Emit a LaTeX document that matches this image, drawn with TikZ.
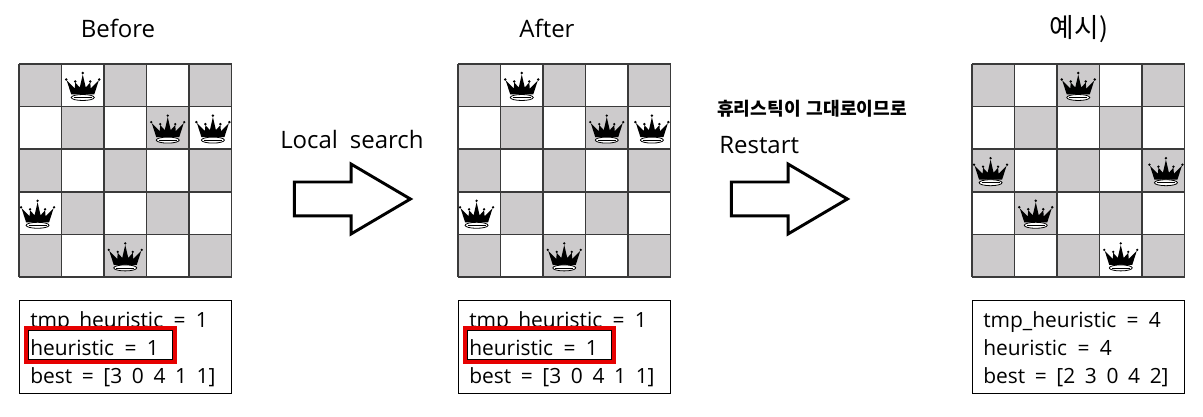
\documentclass[tikz,border=0pt]{standalone}
\usepackage{fontspec}
\setmainfont[WordSpace=1.9]{Open Sans}
\newfontfamily\krfont[WordSpace=1.5]{Noto Sans CJK KR}
\usepackage{xcolor}
\usepackage{tikz}
\usetikzlibrary{shapes.arrows, positioning}

\definecolor{cellgray}{HTML}{CDCBCC}
\definecolor{gridgray}{HTML}{3A3A3A}
\definecolor{boxred}{HTML}{E60000}

\begin{document}
\begin{tikzpicture}[
        x=0.75pt, y=-0.75pt,
        title/.style={font={\fontsize{18pt}{20pt}\selectfont}, anchor=base},
        caption/.style={font={\fontsize{18pt}{20pt}\selectfont}, anchor=base west, inner sep=0pt},
        krnote/.style={font={\krfont\fontsize{13.6pt}{15pt}\selectfont\bfseries}, anchor=base west, inner sep=0pt},
        statbox/.style={rectangle, draw=black, fill=white, line width=1pt, minimum width=212*0.75pt, minimum height=93*0.75pt, anchor=north west, inner sep=0pt},
        statline/.style={font={\fontsize{15.7pt}{18pt}\selectfont}, anchor=base west, inner sep=0pt},
        bestline/.style={statline, font={\fontsize{15.7pt}{18pt}\selectfont\spaceskip=.46em\relax}},
        heurbox/.style={rectangle, draw=boxred, fill=white, line width=3pt, minimum width=149*0.75pt, minimum height=34*0.75pt, anchor=north west, inner sep=0pt},
        heurinner/.style={rectangle, draw=black, line width=0.6pt, minimum width=144*0.75pt, minimum height=29*0.75pt, anchor=north west, inner sep=0pt},
        bigarrow/.style={single arrow, draw=black, fill=white, line width=2.2pt, minimum height=116*0.75pt, inner xsep=0pt, inner ysep=15.5*0.75pt, single arrow head extend=18*0.75pt, single arrow head indent=0pt, single arrow tip angle=61, anchor=center},
        board/.pic={
            \foreach \r in {0,1,2,3,4} {
                \foreach \c in {0,1,2,3,4} {
                    \pgfmathparse{int(mod(\r+\c,2))}
                    \ifnum\pgfmathresult=0
                        \fill[cellgray] (\c*42.5,\r*42.6) rectangle ++(42.5,42.6);
                    \fi
                    \coordinate (-\r\c) at (\c*42.5+21.25,\r*42.6+22.5);
                }
            }
            \foreach \i in {0,1,2,3,4,5} {
                \draw[gridgray, line width=1.1pt] (\i*42.5,0) -- (\i*42.5,213);
                \draw[gridgray, line width=1.1pt] (0,\i*42.6) -- (212.5,\i*42.6);
            }
        },
        queen/.pic={
            \fill[black] (-16,-6) -- (-8,2) -- (-7.5,-4) -- (-3,1) -- (0,-12) -- (3,1) -- (7.5,-4) -- (8,2) -- (16,-6) -- (11.5,8) -- (-11.5,8) -- cycle;
            \foreach \dotx/\doty in {-16.5/-7, -7.5/-5, 0/-13.5, 7.5/-5, 16.5/-7} {
                \fill[black] (\dotx,\doty) circle[radius=1pt];
            }
            \draw[black, fill=white, line width=0.6pt] (0,11) ellipse[x radius=11.5, y radius=3];
            \draw[black, line width=0.5pt] (-9,11) -- (9,11);
        }
    ]
    \useasboundingbox (0,0) rectangle (1203,417);

    % Titles
    \node (titleBefore) [title] at (118,38) {Before};
    \node (titleAfter) [title] at (547,38) {After};
    \node (titleExample) [title, font={\krfont\fontsize{20pt}{22pt}\selectfont}] at (1079,38) {예시)};

    % Boards
    \pic (before) at (19,64) {board};
    \pic (after) at (458,64) {board};
    \pic (example) at (972,64) {board};

    % Queens on the first board
    \pic at (before-01) {queen};
    \pic at (before-13) {queen};
    \pic at ([xshift=2pt]before-14) {queen};
    \pic at ([xshift=-2pt]before-30) {queen};
    \pic at (before-42) {queen};

    % Queens on the second board
    \pic at (after-01) {queen};
    \pic at (after-13) {queen};
    \pic at ([xshift=2pt]after-14) {queen};
    \pic at ([xshift=-2pt]after-30) {queen};
    \pic at (after-42) {queen};

    % Queens on the third board
    \pic at (example-02) {queen};
    \pic at ([xshift=-2pt]example-20) {queen};
    \pic at ([xshift=2pt]example-24) {queen};
    \pic at (example-31) {queen};
    \pic at (example-43) {queen};

    % Block arrows
    \node (searchArrow) [bigarrow] at (338,199) {};
    \node (restartArrow) [bigarrow] at (775,199) {};
    \node (searchLabel) [caption] at (280,149) {Local search};
    \node (restartLabel) [caption] at (719,154) {Restart};
    \node (restartNote) [krnote] at (717,116) {휴리스틱이 그대로이므로};

    % Value boxes
    \node (statBefore) [statbox] at (18.5,299.5) {};
    \node (statAfter) [statbox] at (457.5,299.5) {};
    \node (statExample) [statbox] at (971.5,299.5) {};

    \node (tmpBefore) [statline] at (30,327) {tmp\_heuristic = 1};
    \node (tmpAfter) [statline] at (469,327) {tmp\_heuristic = 1};
    \node (tmpExample) [statline] at (983,327) {tmp\_heuristic = 4};

    \node (redBefore) [heurbox] at (24,326) {};
    \node (redAfter) [heurbox] at (463,326) {};
    \node (innerBefore) [heurinner] at (28,330) {};
    \node (innerAfter) [heurinner] at (467,330) {};

    \node (heurBefore) [statline] at (30,355) {heuristic = 1};
    \node (heurAfter) [statline] at (469,355) {heuristic = 1};
    \node (heurExample) [statline] at (983,355) {heuristic = 4};

    \node (bestBefore) [bestline] at (30,383) {best = [3 0 4 1 1]};
    \node (bestAfter) [bestline] at (469,383) {best = [3 0 4 1 1]};
    \node (bestExample) [bestline] at (983,383) {best = [2 3 0 4 2]};

\end{tikzpicture}
\end{document}
